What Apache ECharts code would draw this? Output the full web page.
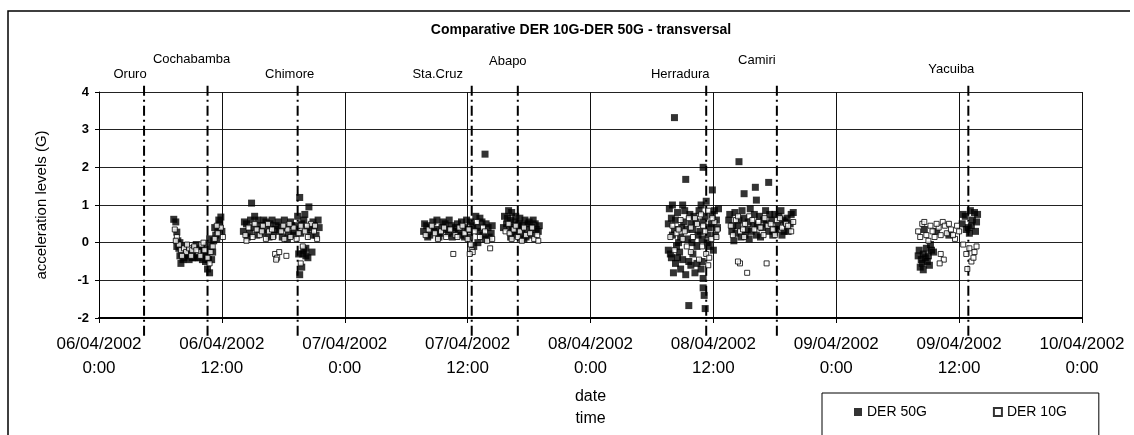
<!DOCTYPE html>
<html>
<head>
<meta charset="utf-8">
<script src="https://cdn.jsdelivr.net/npm/echarts@6/dist/echarts.min.js"></script>
<style>
  html, body { margin: 0; padding: 0; background: #fff; }
  #chart { width: 1134px; height: 435px; }
</style>
</head>
<body>
<div id="chart"></div>
<script>
// x values are hours since 06/04/2002 0:00
const xTickLabels = [
  "06/04/2002\n0:00", "06/04/2002\n12:00", "07/04/2002\n0:00", "07/04/2002\n12:00",
  "08/04/2002\n0:00", "08/04/2002\n12:00", "09/04/2002\n0:00", "09/04/2002\n12:00",
  "10/04/2002\n0:00"
];

const cities = ["Oruro", "Cochabamba", "Chimore", "Sta.Cruz", "Abapo", "Herradura", "Camiri", "Yacuiba"];
const cityHours = [4.4, 10.6, 19.4, 36.4, 40.9, 59.3, 66.2, 84.9];
// label placement relative to the top of each marker line (px)
const cityLabelOffset = [[-14, 1], [-16, -14], [-8, 1], [-34, 1], [-10, -12], [-26, 1], [-20, -13], [-17, -4]];

const der50 = [
  // Oruro - Cochabamba
  [7.3, 0.62], [7.5, 0.55], [7.6, 0.28], [7.7, 0.05], [7.8, -0.15], [7.9, -0.35], [8.0, -0.55], [8.2, -0.45],
  [8.4, -0.2], [8.6, -0.3], [8.8, -0.45], [9.0, -0.25], [9.2, -0.35], [9.4, -0.4], [9.5, -0.05], [9.6, -0.2],
  [9.8, -0.3], [10.0, -0.15], [10.2, -0.35], [10.4, -0.5], [10.6, -0.7], [10.8, -0.8], [10.9, -0.1], [11.0, -0.45],
  [11.2, 0.05], [11.4, 0.2], [11.6, 0.35], [11.8, 0.5], [11.9, 0.68], [12.0, 0.3],
  [7.6, -0.1], [7.9, 0.0], [8.1, -0.3], [8.3, -0.4], [8.5, -0.1], [8.7, -0.35], [8.9, -0.2], [9.1, -0.4],
  [9.3, -0.15], [9.7, -0.4], [9.9, -0.2], [10.1, -0.45], [10.3, -0.1], [10.5, -0.3], [10.7, -0.45], [11.1, -0.25],
  [11.3, 0.4], [11.5, 0.1], [11.7, 0.6], [10.8, 0.1],
  // Chimore
  [14.1, 0.3], [14.4, 0.5], [14.7, 0.25], [14.9, 1.05], [15.2, 0.7], [15.5, 0.6], [15.8, 0.45], [16.1, 0.6],
  [16.4, 0.35], [16.7, 0.5], [17.0, 0.2], [17.3, 0.45], [17.6, 0.3], [17.9, 0.15], [18.2, 0.4], [18.5, 0.25],
  [18.8, 0.45], [19.1, 0.3], [19.4, 0.7], [19.6, 1.2], [19.8, 0.5], [20.0, -0.2], [20.2, -0.35], [19.5, -0.3],
  [19.6, -0.85], [19.8, -0.65], [20.5, 0.95], [20.6, 0.4], [20.9, 0.55], [21.2, 0.2], [21.5, 0.4], [20.8, -0.25],
  [14.2, 0.55], [14.5, 0.15], [14.8, 0.6], [15.1, 0.4], [15.4, 0.2], [15.7, 0.35], [16.0, 0.25], [16.3, 0.55],
  [16.6, 0.15], [16.9, 0.6], [17.2, 0.35], [17.5, 0.55], [17.8, 0.4], [18.1, 0.6], [18.4, 0.1], [18.7, 0.55],
  [19.0, 0.2], [19.3, 0.45], [19.7, 0.25], [20.0, 0.6], [20.3, 0.35], [20.7, 0.2], [21.0, 0.45], [21.4, 0.6],
  [20.1, 0.75], [19.9, -0.3], [20.4, -0.4], [20.2, -0.15],
  // Sta.Cruz
  [31.7, 0.3], [32.0, 0.45], [32.3, 0.2], [32.6, 0.55], [32.9, 0.35], [33.2, 0.15], [33.5, 0.4], [33.8, 0.5],
  [34.1, 0.25], [34.4, 0.45], [34.7, 0.3], [35.0, 0.5], [35.3, 0.2], [35.6, 0.4], [35.9, 0.6], [36.2, 0.15],
  [36.5, 0.45], [36.8, 0.7], [37.1, 0.3], [37.4, 0.55], [37.7, 0.1], [38.0, 0.4], [38.3, 0.25], [37.7, 2.35],
  [36.6, -0.1], [37.0, 0.0],
  [31.8, 0.5], [32.1, 0.15], [32.4, 0.4], [32.7, 0.3], [33.0, 0.6], [33.3, 0.25], [33.6, 0.55], [33.9, 0.35],
  [34.2, 0.6], [34.5, 0.15], [34.8, 0.4], [35.1, 0.3], [35.4, 0.55], [35.7, 0.15], [36.0, 0.35], [36.3, 0.55],
  [36.9, 0.4], [37.2, 0.65], [37.5, 0.2], [37.8, 0.5], [38.1, 0.15], [38.4, 0.45],
  // Abapo
  [39.6, 0.7], [39.8, 0.5], [40.0, 0.85], [40.2, 0.6], [40.4, 0.4], [40.6, 0.55], [40.8, 0.3], [41.0, 0.5],
  [41.2, 0.2], [41.4, 0.45], [41.6, 0.6], [41.8, 0.35], [42.0, 0.55], [42.3, 0.4], [42.6, 0.5], [42.9, 0.3],
  [40.2, 0.15], [41.5, 0.1],
  [39.5, 0.4], [39.9, 0.65], [40.1, 0.35], [40.3, 0.8], [40.5, 0.2], [40.7, 0.7], [40.9, 0.45], [41.1, 0.65],
  [41.3, 0.35], [41.7, 0.15], [41.9, 0.5], [42.2, 0.2], [42.4, 0.6], [42.7, 0.35], [43.0, 0.45],
  // Herradura
  [56.2, 3.32], [57.3, 1.68], [59.0, 2.0], [59.9, 1.4],
  [55.7, 0.9], [56.0, 0.2], [56.3, 0.6], [56.6, 0.0], [56.9, 0.4], [57.2, 0.85], [57.5, 0.1], [57.8, 0.5],
  [58.1, 0.7], [58.4, -0.1], [58.7, 0.3], [59.0, 0.55], [59.3, 1.1], [59.6, 0.4], [59.9, 0.75], [60.2, 0.2],
  [60.5, 0.9], [55.8, -0.3], [57.0, -0.45], [58.0, -0.3], [59.4, 0.0], [60.0, -0.2],
  [55.6, 0.5], [55.9, 0.65], [56.2, 0.35], [56.5, 0.8], [56.8, 0.15], [57.1, 0.55], [57.4, 0.35], [57.7, 0.75],
  [58.0, 0.35], [58.3, 0.55], [58.6, 0.85], [58.9, 0.1], [59.2, 0.7], [59.5, 0.2], [59.8, 0.5], [60.1, 0.85],
  [60.4, 0.4], [56.4, -0.1], [56.7, -0.25], [57.9, 0.0], [58.5, 0.2], [59.6, -0.1], [60.3, 0.6], [58.8, 1.0],
  [57.0, 1.0], [56.0, 1.0],
  [55.6, -0.2], [55.9, -0.4], [56.1, -0.8], [56.3, -0.55], [56.8, -0.7], [57.3, -0.85], [57.8, -0.6], [58.2, -0.8],
  [56.5, -0.4], [57.6, -0.5], [58.4, -0.55], [58.8, -0.7], [59.0, -0.95], [58.9, -0.5],
  [57.6, -1.67], [59.0, -1.2], [59.1, -1.4], [59.2, -1.75],
  // Camiri
  [62.5, 2.15], [64.1, 1.47], [65.4, 1.6], [63.0, 1.3], [64.2, 1.13],
  [61.5, 0.6], [61.8, 0.3], [62.1, 0.8], [62.4, 0.45], [62.7, 0.15], [63.0, 0.65], [63.3, 0.35], [63.6, 0.9],
  [63.9, 0.5], [64.2, 0.2], [64.5, 0.7], [64.8, 0.4], [65.1, 0.85], [65.4, 0.3], [65.7, 0.6], [66.0, 0.75],
  [66.3, 0.45], [66.6, 0.85], [66.9, 0.3], [67.2, 0.65], [67.5, 0.5], [67.8, 0.8], [62.0, 0.05], [63.5, 0.1],
  [61.6, 0.75], [61.9, 0.45], [62.2, 0.25], [62.5, 0.6], [62.8, 0.85], [63.1, 0.2], [63.4, 0.55], [63.7, 0.3],
  [64.0, 0.75], [64.3, 0.45], [64.6, 0.15], [64.9, 0.6], [65.2, 0.5], [65.5, 0.75], [65.8, 0.2], [66.1, 0.35],
  [66.4, 0.7], [66.7, 0.2], [67.0, 0.55], [67.3, 0.3], [67.6, 0.75], [66.8, 0.6],
  // Yacuiba
  [80.1, -0.2], [80.3, -0.45], [80.5, -0.3], [80.8, -0.15], [81.0, -0.35], [81.3, -0.2], [80.2, -0.65], [80.5, -0.72],
  [81.5, -0.25], [80.9, -0.5], [80.6, 0.35], [81.8, 0.3], [83.0, 0.2],
  [80.4, -0.55], [80.7, -0.4], [81.1, -0.6], [80.0, -0.35], [81.2, -0.05],
  [84.3, 0.5], [84.6, 0.7], [84.9, 0.4], [85.1, 0.85], [85.3, 0.6], [85.6, 0.3], [85.8, 0.75], [85.0, 0.25],
  [84.4, 0.75], [84.7, 0.35], [85.2, 0.45], [85.5, 0.8], [85.7, 0.55]
];

const der10 = [
  // Oruro - Cochabamba
  [7.4, 0.35], [7.6, 0.15], [7.8, -0.05], [8.0, -0.2], [8.3, -0.15], [8.5, -0.25], [8.8, -0.15], [9.1, -0.2],
  [9.3, -0.1], [9.7, -0.25], [10.0, -0.05], [10.3, -0.2], [10.6, -0.4], [10.9, -0.25], [11.3, 0.1], [11.6, 0.25],
  [11.9, 0.4], [12.1, 0.15],
  [7.5, 0.05], [8.1, -0.35], [8.6, -0.05], [9.0, -0.35], [9.5, -0.2], [9.9, -0.35], [10.2, 0.0], [10.8, -0.55],
  [11.1, -0.1], [11.5, 0.45],
  // Chimore
  [14.3, 0.2], [14.6, 0.4], [15.0, 0.15], [15.4, 0.35], [15.7, 0.2], [16.0, 0.45], [16.3, 0.1], [16.6, 0.3],
  [16.9, 0.35], [17.2, -0.3], [17.4, -0.4], [17.6, -0.25], [17.8, 0.3], [18.1, 0.1], [18.4, 0.35], [18.7, 0.15],
  [19.0, 0.4], [19.3, 0.1], [19.7, 0.45], [19.9, -0.1], [20.1, 0.3], [20.4, 0.15], [20.7, 0.5], [21.0, 0.3],
  [21.3, 0.1], [19.7, -0.55],
  [14.4, 0.05], [15.2, 0.5], [15.9, 0.3], [16.5, 0.5], [17.0, 0.15], [18.0, 0.45], [18.6, 0.5], [19.5, 0.25],
  [20.3, 0.45], [21.1, 0.45], [18.3, -0.35], [17.3, -0.45],
  // Sta.Cruz
  [31.9, 0.2], [32.2, 0.35], [32.8, 0.25], [33.4, 0.3], [33.9, 0.15], [34.3, 0.35], [34.8, 0.2], [35.2, 0.4],
  [35.7, 0.25], [36.0, 0.1], [36.3, -0.05], [36.4, -0.2], [36.7, 0.3], [37.2, 0.15], [37.5, 0.4], [37.9, 0.05],
  [38.2, -0.15], [34.6, -0.3], [36.5, -0.25],
  [32.5, 0.45], [33.1, 0.1], [33.7, 0.4], [35.0, 0.15], [35.5, 0.45], [36.1, 0.35], [36.9, 0.55], [37.7, 0.3],
  [38.4, 0.1], [36.2, -0.3],
  // Abapo
  [39.7, 0.3], [40.1, 0.25], [40.5, 0.35], [40.9, 0.15], [41.1, 0.3], [41.3, 0.05], [41.7, 0.2], [42.1, 0.25],
  [42.5, 0.1], [42.8, 0.2], [40.7, 0.45],
  [40.0, 0.5], [40.3, 0.1], [41.5, 0.4], [42.3, 0.4], [42.9, 0.05],
  // Herradura
  [56.0, 0.45], [56.4, 0.25], [56.8, 0.6], [57.2, 0.3], [57.6, 0.65], [58.0, 0.15], [58.4, 0.5], [58.8, 0.75],
  [59.2, 0.3], [59.5, 0.85], [59.8, 0.1], [60.1, 0.55], [60.4, 0.35], [57.4, -0.1], [58.6, -0.45], [59.3, -0.3],
  [55.8, 0.15], [56.6, 0.35], [57.0, 0.1], [57.8, 0.4], [58.2, 0.65], [59.0, 0.45], [59.9, 0.65], [60.3, 0.15],
  [56.2, -0.2], [57.8, -0.25], [58.9, -0.1], [59.6, -0.4],
  [59.5, -0.6], [62.6, -0.55], [63.3, -0.8], [65.2, -0.55], [62.4, -0.5],
  // Camiri
  [61.7, 0.45], [62.2, 0.6], [62.6, 0.3], [63.1, 0.5], [63.5, 0.7], [64.0, 0.35], [64.4, 0.55], [64.9, 0.2],
  [65.3, 0.45], [65.8, 0.35], [66.2, 0.6], [66.7, 0.4], [67.1, 0.5], [67.6, 0.3], [63.0, 0.15],
  [61.9, 0.2], [62.4, 0.7], [62.9, 0.35], [63.8, 0.6], [64.6, 0.4], [65.0, 0.65], [65.6, 0.5], [66.0, 0.2],
  [66.5, 0.65], [67.3, 0.45], [67.8, 0.55],
  // Yacuiba
  [80.0, 0.3], [80.4, 0.5], [80.8, 0.2], [81.2, 0.45], [81.6, 0.15], [82.0, 0.4], [82.4, 0.55], [82.8, 0.25],
  [83.2, 0.35], [83.6, 0.1], [84.0, 0.3], [81.0, 0.05], [82.6, 0.45], [82.2, -0.3], [82.5, -0.45], [82.1, -0.55],
  [80.2, 0.15], [80.6, 0.55], [81.4, 0.3], [81.8, 0.5], [82.2, 0.2], [83.0, 0.5], [83.4, 0.2], [83.8, 0.45],
  [84.4, -0.05], [84.7, -0.3], [85.0, -0.15], [85.2, -0.5], [85.5, -0.25], [85.7, -0.1], [84.8, -0.7], [85.4, -0.4]
];

const font = "'Liberation Sans', Arial, sans-serif";
const chart = echarts.init(document.getElementById("chart"));

const cityLines = cities.map((name, i) => ({
  type: "line",
  name: name,
  silent: true,
  clip: false,
  symbol: "circle",
  symbolSize: 1,
  showSymbol: true,
  z: 1,
  itemStyle: { color: "rgba(0,0,0,0)" },
  lineStyle: { color: "#000", width: 2, type: [10, 4, 2, 4] },
  data: [
    [cityHours[i], -2.47],
    {
      value: [cityHours[i], 4.18],
      label: {
        show: true, position: "top", distance: 5, offset: cityLabelOffset[i],
        formatter: name, color: "#000", fontSize: 13, fontFamily: font
      }
    }
  ]
}));

chart.setOption({
  animation: false,
  title: {
    text: "Comparative DER 10G-DER 50G - transversal",
    left: 576, top: 18, textAlign: "center",
    textStyle: { fontSize: 14, fontWeight: "bold", color: "#000", fontFamily: font }
  },
  grid: { left: 99, right: 52, top: 92, bottom: 110 },
  legend: {
    data: ["DER 50G", "DER 10G"],
    left: 822, top: 393,
    padding: [12, 32, 20, 32],
    itemGap: 66,
    itemWidth: 8, itemHeight: 8,
    borderColor: "#000", borderWidth: 1,
    textStyle: { fontSize: 14, color: "#000", fontFamily: font }
  },
  xAxis: {
    type: "value", min: 0, max: 96, interval: 12,
    name: "date\ntime", nameLocation: "middle", nameGap: 68,
    nameTextStyle: { fontSize: 16, color: "#000", fontFamily: font, lineHeight: 22 },
    axisLine: { onZero: false, lineStyle: { color: "#000", width: 2 } },
    axisTick: { show: true, length: 5, lineStyle: { color: "#000" } },
    axisLabel: {
      margin: 14, fontSize: 17, lineHeight: 24, color: "#000", fontFamily: font,
      formatter: v => xTickLabels[Math.round(v / 12)]
    },
    splitLine: { show: true, lineStyle: { color: "#111", width: 1 } }
  },
  yAxis: {
    type: "value", min: -2, max: 4, interval: 1,
    name: "acceleration levels (G)", nameLocation: "middle", nameGap: 50,
    nameTextStyle: { fontSize: 15, color: "#000", fontFamily: font },
    axisLine: { show: true, onZero: false, lineStyle: { color: "#000", width: 1 } },
    axisTick: { show: true, length: 4, lineStyle: { color: "#000" } },
    axisLabel: { margin: 10, fontSize: 13, fontWeight: "bold", color: "#000", fontFamily: font },
    splitLine: { show: true, lineStyle: { color: "#222", width: 1 } }
  },
  graphic: [{
    type: "polyline",
    shape: { points: [[8, 440], [8, 11], [1130, 11]] },
    style: { stroke: "#000", lineWidth: 1.5, fill: null },
    silent: true
  }],
  series: [
    ...cityLines,
    {
      type: "scatter", name: "DER 50G", symbol: "rect", symbolSize: 7, z: 3,
      itemStyle: { color: "#000" },
      data: der50
    },
    {
      type: "scatter", name: "DER 10G", symbol: "rect", symbolSize: 5, z: 4,
      itemStyle: { color: "#fff", borderColor: "#000", borderWidth: 1 },
      data: der10
    }
  ]
});
</script>
</body>
</html>
